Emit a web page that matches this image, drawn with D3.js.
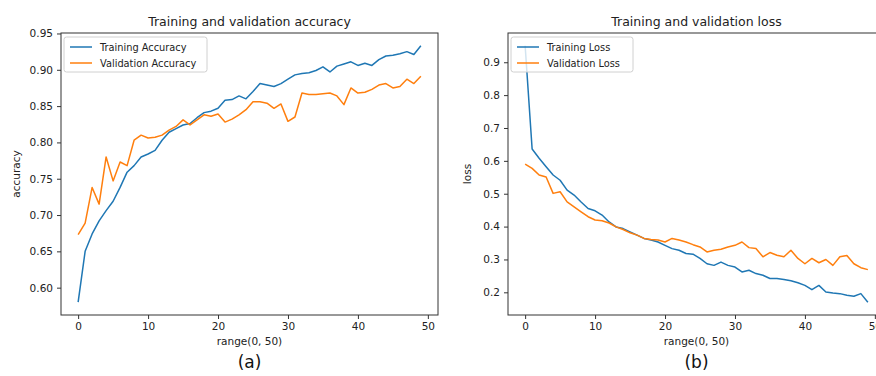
<!DOCTYPE html>
<html>
<head>
<meta charset="utf-8">
<script src="https://cdn.jsdelivr.net/npm/d3@7"></script>
<style>
  body { margin: 0; background: #fff; }
  svg { display: block; font-family: "DejaVu Sans", sans-serif; }
</style>
</head>
<body>
<svg id="svg" width="876" height="376"></svg>
<script>
// epochs 0..49
var epochs = d3.range(50);

var trainAcc = [0.580, 0.650, 0.674, 0.692, 0.706, 0.719, 0.738, 0.759, 0.768, 0.780,
  0.784, 0.789, 0.803, 0.814, 0.819, 0.824, 0.826, 0.834, 0.841, 0.843,
  0.847, 0.858, 0.859, 0.864, 0.860, 0.870, 0.881, 0.879, 0.877, 0.881,
  0.887, 0.893, 0.895, 0.896, 0.899, 0.904, 0.897, 0.905, 0.908, 0.911,
  0.906, 0.909, 0.906, 0.914, 0.919, 0.920, 0.922, 0.925, 0.921, 0.933];
var valAcc = [0.673, 0.689, 0.738, 0.715, 0.780, 0.747, 0.773, 0.768, 0.803, 0.810,
  0.806, 0.807, 0.810, 0.817, 0.822, 0.831, 0.824, 0.831, 0.838, 0.836,
  0.839, 0.828, 0.832, 0.838, 0.845, 0.856, 0.856, 0.854, 0.847, 0.853,
  0.829, 0.835, 0.868, 0.866, 0.866, 0.867, 0.868, 0.864, 0.852, 0.875,
  0.868, 0.869, 0.873, 0.879, 0.881, 0.875, 0.877, 0.887, 0.881, 0.891];
var trainLoss = [0.950, 0.636, 0.608, 0.582, 0.557, 0.541, 0.511, 0.496, 0.475, 0.455,
  0.448, 0.435, 0.414, 0.399, 0.394, 0.384, 0.374, 0.364, 0.359, 0.353,
  0.343, 0.333, 0.328, 0.318, 0.316, 0.303, 0.287, 0.282, 0.292, 0.282,
  0.277, 0.262, 0.267, 0.257, 0.252, 0.242, 0.242, 0.239, 0.235, 0.229,
  0.221, 0.208, 0.221, 0.201, 0.198, 0.196, 0.191, 0.188, 0.196, 0.170];
var valLoss = [0.590, 0.577, 0.557, 0.551, 0.501, 0.506, 0.475, 0.460, 0.445, 0.430,
  0.420, 0.418, 0.411, 0.399, 0.391, 0.381, 0.374, 0.364, 0.361, 0.359,
  0.353, 0.364, 0.359, 0.353, 0.345, 0.338, 0.323, 0.328, 0.331, 0.338,
  0.343, 0.353, 0.336, 0.333, 0.308, 0.321, 0.313, 0.308, 0.328, 0.303,
  0.287, 0.303, 0.290, 0.300, 0.282, 0.308, 0.312, 0.287, 0.275, 0.269];

var xTicks = [0, 10, 20, 30, 40, 50];
var accTicks = [0.60, 0.65, 0.70, 0.75, 0.80, 0.85, 0.90, 0.95];
var lossTicks = [0.2, 0.3, 0.4, 0.5, 0.6, 0.7, 0.8, 0.9];

var blue = "#1f77b4", orange = "#ff7f0e";
var svg = d3.select("#svg");

// matplotlib style autoscale: 5% margin
function pad(lo, hi) {
  var r = hi - lo;
  return [lo - 0.05 * r, hi + 0.05 * r];
}

function panel(opt) {
  var g = svg.append("g");
  var x = d3.scaleLinear().domain(pad(0, 49)).range([opt.x0, opt.x1]);
  var all = opt.series[0].values.concat(opt.series[1].values);
  var y = d3.scaleLinear().domain(pad(d3.min(all), d3.max(all))).range([opt.y1, opt.y0]);

  opt.series.forEach(function (s) {
    g.append("path")
      .datum(s.values)
      .attr("fill", "none")
      .attr("stroke", s.color)
      .attr("stroke-width", 1.5)
      .attr("stroke-linejoin", "round")
      .attr("d", d3.line().x(function (d, i) { return x(epochs[i]); }).y(function (d) { return y(d); }));
  });

  var xAxis = g.append("g")
    .attr("transform", "translate(0," + opt.y1 + ")")
    .call(d3.axisBottom(x).tickValues(xTicks).tickSize(4).tickPadding(4).tickFormat(d3.format("d")));
  var yAxis = g.append("g")
    .attr("transform", "translate(" + opt.x0 + ",0)")
    .call(d3.axisLeft(y).tickValues(opt.yTicks).tickSize(4).tickPadding(4).tickFormat(d3.format(opt.yFmt)));
  [xAxis, yAxis].forEach(function (a) {
    a.select(".domain").remove();
    a.selectAll("line").attr("stroke", "#333");
    a.selectAll("text").attr("fill", "#222").style("font-size", "10.5px")
      .style("font-family", "DejaVu Sans");
  });

  // frame
  g.append("rect")
    .attr("x", opt.x0).attr("y", opt.y0)
    .attr("width", opt.x1 - opt.x0).attr("height", opt.y1 - opt.y0)
    .attr("fill", "none").attr("stroke", "#333").attr("stroke-width", 1);

  g.append("text")
    .attr("x", (opt.x0 + opt.x1) / 2).attr("y", opt.y0 - 7)
    .attr("text-anchor", "middle").attr("fill", "#222")
    .style("font-size", "12.5px").text(opt.title);

  g.append("text")
    .attr("x", x(24.5)).attr("y", opt.y1 + 30)
    .attr("text-anchor", "middle").attr("fill", "#222")
    .style("font-size", "10.5px").text("range(0, 50)");

  g.append("text")
    .attr("transform", "translate(" + opt.ylabX + "," + ((opt.y0 + opt.y1) / 2) + ") rotate(-90)")
    .attr("text-anchor", "middle").attr("fill", "#222")
    .style("font-size", "10.5px").text(opt.ylab);

  g.append("text")
    .attr("x", x(24.5)).attr("y", opt.y1 + 53)
    .attr("text-anchor", "middle").attr("fill", "#111")
    .style("font-size", "17px").text(opt.tag);

  // legend
  var lg = g.append("g").attr("transform", "translate(" + (opt.x0 + 3) + "," + (opt.y0 + 4) + ")");
  lg.append("rect")
    .attr("width", opt.legW).attr("height", 35).attr("rx", 2.5)
    .attr("fill", "#fff").attr("fill-opacity", 0.8)
    .attr("stroke", "#d0d0d0").attr("stroke-width", 1);
  opt.series.forEach(function (s, i) {
    var cy = 10 + i * 16;
    lg.append("line").attr("x1", 6).attr("x2", 28).attr("y1", cy).attr("y2", cy)
      .attr("stroke", s.color).attr("stroke-width", 1.5);
    lg.append("text").attr("x", 36).attr("y", cy + 3.5).attr("fill", "#222")
      .style("font-size", "9.8px").text(s.name);
  });
}

panel({
  x0: 61, x1: 438, y0: 33, y1: 315,
  title: "Training and validation accuracy", ylab: "accuracy", ylabX: 20, tag: "(a)",
  yTicks: accTicks, yFmt: ".2f", legW: 143,
  series: [{ name: "Training Accuracy", values: trainAcc, color: blue },
           { name: "Validation Accuracy", values: valAcc, color: orange }]
});

panel({
  x0: 508, x1: 885, y0: 33, y1: 315,
  title: "Training and validation loss", ylab: "loss", ylabX: 471, tag: "(b)",
  yTicks: lossTicks, yFmt: ".1f", legW: 122,
  series: [{ name: "Training Loss", values: trainLoss, color: blue },
           { name: "Validation Loss", values: valLoss, color: orange }]
});
</script>
</body>
</html>
